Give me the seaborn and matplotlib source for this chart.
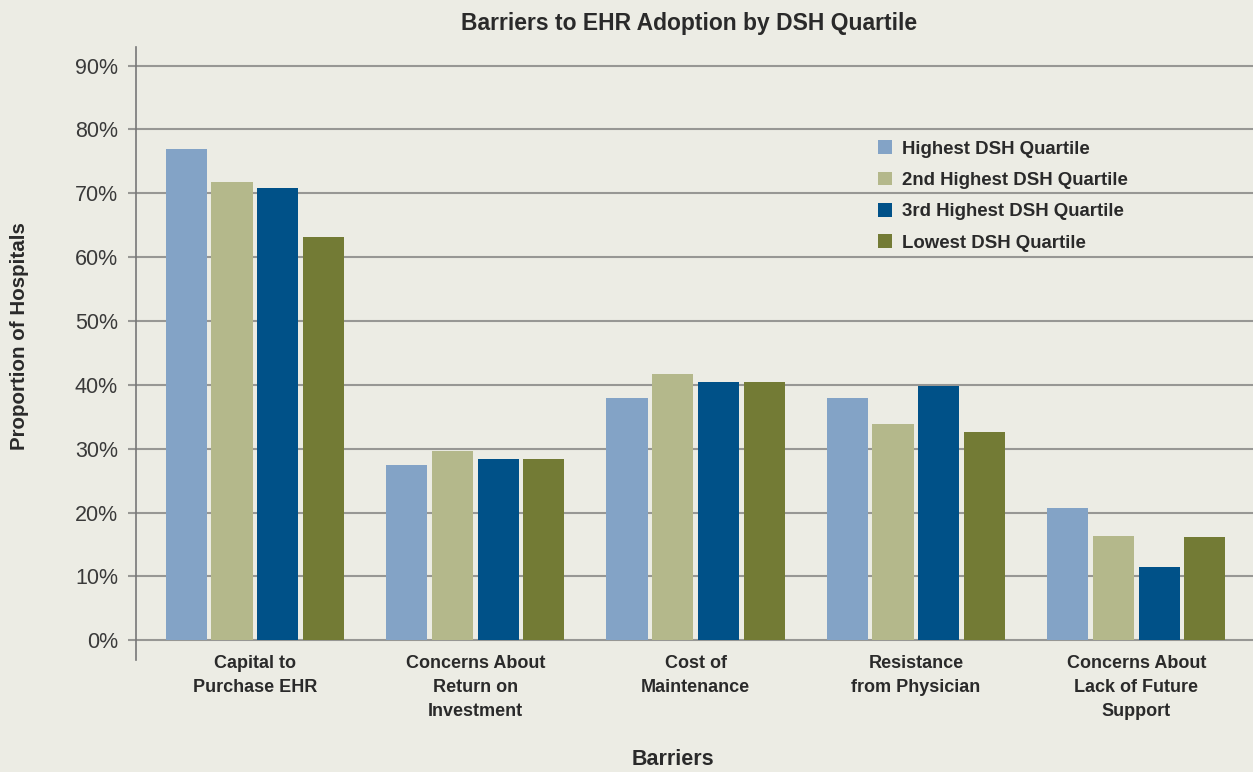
import matplotlib
matplotlib.use('Agg')
import matplotlib.pyplot as plt
import seaborn as sns
import pandas as pd

sns.set_style('white')
plt.rcParams['font.family'] = ['Liberation Sans', 'DejaVu Sans']

barriers = ['Capital to\nPurchase EHR', 'Concerns About\nReturn on\nInvestment',
            'Cost of\nMaintenance', 'Resistance\nfrom Physician',
            'Concerns About\nLack of Future\nSupport']
quartiles = ['Highest DSH Quartile', '2nd Highest DSH Quartile',
             '3rd Highest DSH Quartile', 'Lowest DSH Quartile']
highest = [77.0, 27.4, 37.9, 37.9, 20.7]
second = [71.8, 29.6, 41.7, 33.9, 16.3]
third = [70.8, 28.4, 40.4, 39.8, 11.4]
lowest = [63.2, 28.4, 40.4, 32.6, 16.1]
colors = ['#83a3c6', '#b4b88b', '#005188', '#737b35']

rows = []
for q, vals in zip(quartiles, [highest, second, third, lowest]):
    for b, v in zip(barriers, vals):
        rows.append({'Barrier': b, 'Quartile': q, 'Value': v})
df = pd.DataFrame(rows)

bg = '#ecece4'
txt = '#2a2a2a'
fig = plt.figure(figsize=(12.53, 7.72), dpi=100, facecolor=bg)
ax = fig.add_axes([0.1085, 0.145, 0.8915, 0.794])
ax.set_facecolor(bg)

ax.set_axisbelow(True)
ax.yaxis.grid(True, color='#979794', linewidth=1.5)
sns.barplot(data=df, x='Barrier', y='Value', hue='Quartile', palette=colors,
            width=0.83, gap=0.1, saturation=1, linewidth=0, ax=ax)

ax.set_ylim(-3.1, 92.9)
ax.set_xlim(-0.54, 4.53)
ax.set_yticks(range(0, 91, 10))
ax.set_yticklabels([f'{t}%' for t in range(0, 91, 10)], fontsize=15.5, color='#3a3a3a')
ax.tick_params(axis='y', length=6, width=1.5, color='#979794', pad=7, left=True)
ax.tick_params(axis='x', length=0, pad=-4)
for lab in ax.get_xticklabels():
    lab.set_fontsize(13)
    lab.set_fontweight('bold')
    lab.set_color(txt)
    lab.set_va('top')
    lab.set_linespacing(1.55)

for s in ['top', 'right', 'bottom']:
    ax.spines[s].set_visible(False)
ax.spines['left'].set_color('#777777')
ax.spines['left'].set_linewidth(1.2)

ax.set_xlabel('Barriers', fontsize=15.5, fontweight='bold', color=txt, va='center')
ax.xaxis.set_label_coords(0.481, -0.163)
ax.set_ylabel('Proportion of Hospitals', fontsize=14.8, fontweight='bold', color=txt, va='center')
ax.yaxis.set_label_coords(-0.104, 0.529)
ax.set_title('Barriers to EHR Adoption by DSH Quartile', fontsize=16.5, fontweight='bold',
             color=txt, pad=12, x=0.495)

leg = ax.legend(loc='upper left', bbox_to_anchor=(0.649, 0.875), frameon=False,
                handlelength=0.75, handleheight=0.75, handletextpad=0.55, labelspacing=0.75,
                prop={'size': 13.4, 'weight': 'bold'})
for t in leg.get_texts():
    t.set_color(txt)

fig.savefig('out.png', dpi=100, facecolor=bg)
